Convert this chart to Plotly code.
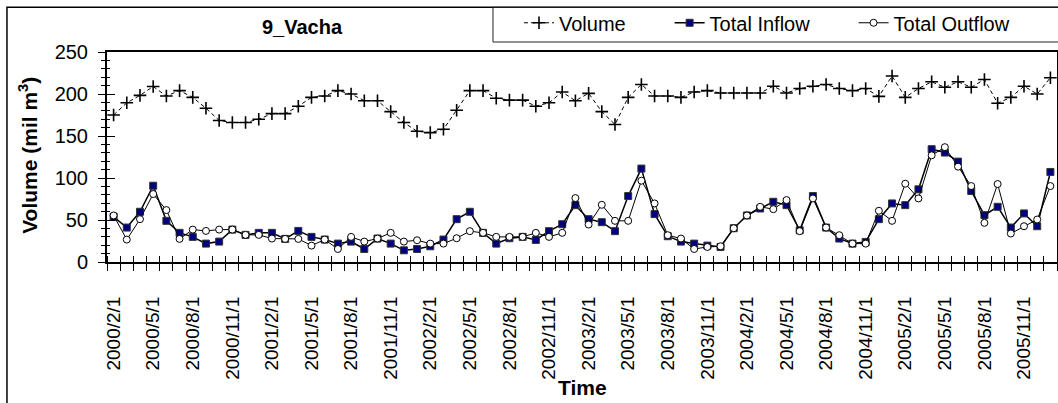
import plotly.graph_objects as go

months = ["2000/2/1", "2000/3/1", "2000/4/1", "2000/5/1", "2000/6/1", "2000/7/1", "2000/8/1", "2000/9/1",
          "2000/10/1", "2000/11/1", "2000/12/1", "2001/1/1", "2001/2/1", "2001/3/1", "2001/4/1", "2001/5/1",
          "2001/6/1", "2001/7/1", "2001/8/1", "2001/9/1", "2001/10/1", "2001/11/1", "2001/12/1", "2002/1/1",
          "2002/2/1", "2002/3/1", "2002/4/1", "2002/5/1", "2002/6/1", "2002/7/1", "2002/8/1", "2002/9/1",
          "2002/10/1", "2002/11/1", "2002/12/1", "2003/1/1", "2003/2/1", "2003/3/1", "2003/4/1", "2003/5/1",
          "2003/6/1", "2003/7/1", "2003/8/1", "2003/9/1", "2003/10/1", "2003/11/1", "2003/12/1", "2004/1/1",
          "2004/2/1", "2004/3/1", "2004/4/1", "2004/5/1", "2004/6/1", "2004/7/1", "2004/8/1", "2004/9/1",
          "2004/10/1", "2004/11/1", "2004/12/1", "2005/1/1", "2005/2/1", "2005/3/1", "2005/4/1", "2005/5/1",
          "2005/6/1", "2005/7/1", "2005/8/1", "2005/9/1", "2005/10/1", "2005/11/1", "2005/12/1", "2006/1/1"]

volume = [175, 189.5, 198.4, 208.9, 197.6, 204, 196, 183, 168.5, 166, 166, 170,
          176.6, 176.6, 185.5, 196, 197.6, 204, 200, 192, 192, 179, 166, 155.6,
          154, 158, 180.6, 204, 204, 195, 192.7, 192.7, 185.5, 189.5, 202.4, 192,
          200.8, 179, 163.7, 196, 211.3, 197.6, 197.6, 196, 202.4, 204, 201.2, 201.2,
          201.2, 201.2, 209.3, 201.2, 206.5, 209.3, 211.3, 206.5, 204, 206.5, 197.2, 221.4,
          196, 206.5, 214.5, 208, 214.5, 208, 217.3, 189, 196, 209.3, 200, 219.4]

total_inflow = [53.8, 41, 59.8, 90.8, 49, 34.7, 29.9, 21.9, 24.3, 38.6, 32.3, 34.7,
                34.7, 27.5, 37, 29.9, 26.7, 21.9, 24.3, 15.5, 27.9, 21.9, 13.9, 15.5,
                18.7, 26.7, 51, 59.8, 34.7, 21.9, 28.3, 29.9, 26.3, 36.7, 45, 67.7,
                51, 47.4, 36.7, 78.5, 111.2, 57, 30.7, 24.3, 21.9, 19.5, 17.9, 40.2,
                55.4, 63.7, 71.7, 67.7, 37.8, 78.5, 41, 27.9, 21.9, 23.9, 51, 69.7,
                67.7, 86.5, 134.3, 130.3, 119.5, 84.5, 55.8, 65.7, 41, 57.8, 42.6, 107.2]

total_outflow = [55.4, 26.7, 51, 80.9, 61.8, 27.5, 38.6, 37, 38.6, 38.6, 32.3, 32.3,
                 27.9, 27.5, 27.5, 19.5, 26.7, 15.5, 29.9, 24.3, 27.9, 34.7, 24.3, 25.9,
                 21.9, 21.9, 28.3, 36.7, 34.7, 29.9, 29.9, 29.9, 34.7, 29.9, 34.7, 76.1,
                 44.6, 68.1, 49, 49, 96.8, 69.7, 31.9, 27.9, 15.5, 17.9, 18.7, 40.2,
                 55.4, 65.7, 62.9, 73.7, 36.7, 75.7, 41, 31.9, 21.9, 21.9, 61, 49,
                 93.2, 75.7, 127, 136.7, 113.5, 90.4, 46.6, 92.8, 33.9, 42.6, 50.6, 90.4]

y_ticks = [0, 50, 100, 150, 200, 250]
label_step = 3

FONT = "Arial, Liberation Sans, sans-serif"
idx = list(range(len(months)))
PAD = "\u00a0" * 7

fig = go.Figure()
fig.add_trace(go.Scatter(
    x=idx, y=volume, name="Volume" + PAD, mode="lines+markers",
    line=dict(color="black", width=1, dash="4px,3px"),
    marker=dict(symbol="cross-thin", size=9, line=dict(color="black", width=1.6)),
))
fig.add_trace(go.Scatter(
    x=idx, y=total_inflow, name="Total Inflow" + PAD, mode="lines+markers",
    line=dict(color="black", width=1.5),
    marker=dict(symbol="square", size=7, color="#000080", line=dict(color="#333333", width=1)),
))
fig.add_trace(go.Scatter(
    x=idx, y=total_outflow, name="Total Outflow", mode="lines+markers",
    line=dict(color="black", width=1),
    marker=dict(symbol="circle", size=7, color="white", line=dict(color="black", width=1)),
))
# empty trace on overlay axes (carries the inside ticks)
fig.add_trace(go.Scatter(x=[None], y=[None], xaxis="x2", yaxis="y2", showlegend=False, hoverinfo="skip"))

n = len(months)
tickvals = idx[::label_step]
ticktext = months[::label_step]

fig.update_layout(
    width=1058, height=403,
    paper_bgcolor="white", plot_bgcolor="white",
    margin=dict(l=107, r=1, t=52, b=141, autoexpand=False),
    font=dict(family=FONT, color="black", size=19),
    showlegend=True,
    legend=dict(
        orientation="h", x=0.4337, y=1.232, xanchor="left", yanchor="top",
        borderwidth=0, bgcolor="rgba(0,0,0,0)",
        font=dict(family=FONT, size=20, color="black"),
        itemwidth=30, tracegroupgap=0,
    ),
    xaxis=dict(
        range=[-0.5, n - 0.5], tickmode="array", tickvals=tickvals, ticktext=ticktext,
        tickangle=-90, ticks="outside", ticklen=7, tickcolor="rgba(0,0,0,0)",
        ticklabelstandoff=18,
        tickfont=dict(family=FONT, size=19, color="black"),
        showgrid=False, zeroline=False,
        showline=True, linecolor="black", linewidth=2, mirror=True,
        minor=dict(tickmode="linear", tick0=-0.5, dtick=1, ticks="outside", ticklen=7,
                   tickcolor="black", tickwidth=1, showgrid=False),
    ),
    xaxis2=dict(
        range=[-0.5, n - 0.5], overlaying="x", anchor="y", showticklabels=False,
        tickmode="array", tickvals=[], showgrid=False, zeroline=False, showline=False,
        minor=dict(tickmode="linear", tick0=-0.5, dtick=1, ticks="inside", ticklen=6,
                   tickcolor="black", tickwidth=1, showgrid=False),
    ),
    yaxis=dict(
        range=[0, 250], tickmode="array", tickvals=y_ticks,
        ticks="outside", ticklen=7, tickcolor="black", tickwidth=1,
        ticklabelstandoff=6,
        tickfont=dict(family=FONT, size=20, color="black"),
        showgrid=False, zeroline=False,
        showline=True, linecolor="black", linewidth=2, mirror=True,
        minor=dict(tickmode="linear", tick0=0, dtick=10, ticks="outside", ticklen=4,
                   tickcolor="black", tickwidth=1, showgrid=False),
    ),
    yaxis2=dict(
        range=[0, 250], overlaying="y", anchor="x", side="left", showticklabels=False,
        tickmode="array", tickvals=y_ticks, ticks="inside", ticklen=8, tickcolor="black",
        showgrid=False, zeroline=False, showline=False,
        minor=dict(tickmode="linear", tick0=0, dtick=10, ticks="inside", ticklen=3,
                   tickcolor="black", tickwidth=1, showgrid=False),
    ),
    shapes=[
        dict(type="rect", xref="paper", yref="paper", x0=-0.1053, x1=1.02, y0=-0.72, y1=1.2129,
             line=dict(color="black", width=1.5), fillcolor="rgba(0,0,0,0)", layer="below"),
        dict(type="rect", xref="paper", yref="paper", x0=0.4063, x1=1.02, y0=1.0476, y1=1.2129,
             line=dict(color="#222222", width=1), fillcolor="rgba(0,0,0,0)", layer="below"),
    ],
    annotations=[
        dict(text="<b>9_Vacha</b>", xref="paper", yref="paper", x=0.2056, y=1.1176,
             xanchor="center", yanchor="middle", showarrow=False,
             font=dict(family=FONT, size=20, color="black")),
        dict(text="<b>Time</b>", xref="paper", yref="paper", x=0.5, y=-0.5967,
             xanchor="center", yanchor="middle", showarrow=False,
             font=dict(family=FONT, size=21, color="black")),
        dict(text="<b>Volume (mil m<sup>3</sup>)</b>", xref="paper", yref="paper", x=-0.0832, y=0.51,
             xanchor="center", yanchor="middle", textangle=-90, showarrow=False,
             font=dict(family=FONT, size=21, color="black")),
    ],
)

fig.write_html("out.html", config={"displayModeBar": False},
               post_script="document.body.style.margin='0';document.body.style.overflow='hidden';")
